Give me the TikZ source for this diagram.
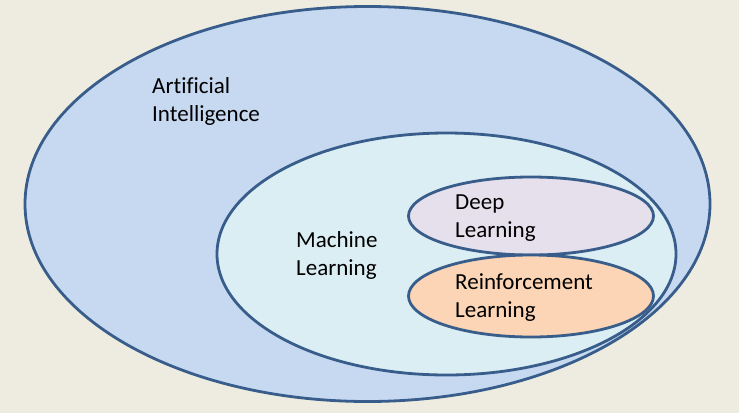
\documentclass[tikz,border=0pt]{standalone}
\usepackage{fontspec}
\setmainfont{Carlito}[Ligatures=NoCommon]
\usetikzlibrary{shapes.geometric,positioning}
\definecolor{paper}{HTML}{EEECE1}
\definecolor{rim}{HTML}{385D8A}
\definecolor{aiblue}{HTML}{C6D9F1}
\definecolor{mlaqua}{HTML}{DBEEF4}
\definecolor{dlpurple}{HTML}{E5E0EC}
\definecolor{rlorange}{HTML}{FBD5B5}

\begin{document}
\begin{tikzpicture}[% one unit = one pixel of the slide, y runs downwards
			x=1pt,y=-1pt,
			set/.style={
				ellipse,draw=rim,line width=2.8pt,
				inner sep=0pt		% size given by minimum width/height only
			},
			lbl/.style={
				align=left,anchor=base west,inner sep=0pt,	% base = last line
				font=\fontsize{23}{28}\selectfont
			}
		]
		\fill[paper] (0,0) rectangle (739,413);
		\useasboundingbox (0,0) rectangle (739,413);
		% nested sets
		\node[set,fill=aiblue,minimum width=685pt,minimum height=395pt](AI) at (367.5,204){};
		\node[set,fill=mlaqua,minimum width=459pt,minimum height=242pt](ML) at (446.5,254){};
		\node[set,fill=dlpurple,minimum width=245pt,minimum height=78pt](DL) at (531,216){};
		\node[set,fill=rlorange,minimum width=245pt,minimum height=82pt](RL) at (531,296){};
		% labels
		\node[lbl](AItext) at (152,121){Artificial\\Intelligence};
		\node[lbl](MLtext) at (296,275){Machine\\Learning};
		\node[lbl](DLtext) at (455,237){Deep\\Learning};
		\node[lbl](RLtext) at (455,317){Reinforcement\\Learning};
	\end{tikzpicture}
\end{document}
